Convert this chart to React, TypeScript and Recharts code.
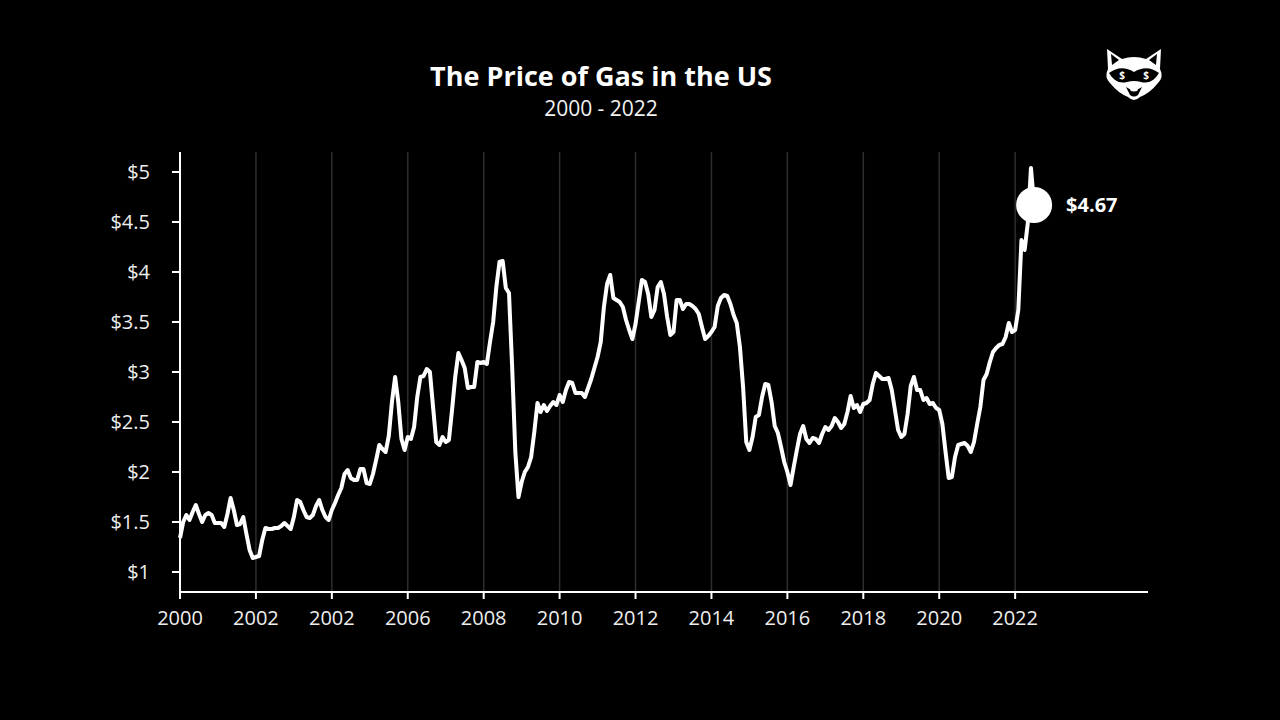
import { LineChart, Line, XAxis, YAxis, ReferenceLine, ReferenceDot } from "recharts";

const startYear = 2000;

// x axis ticks (labels copied as shown, including the repeated 2002)
const tickYears = [2000, 2002, 2004, 2006, 2008, 2010, 2012, 2014, 2016, 2018, 2020, 2022];
const tickLabels = ["2000", "2002", "2002", "2006", "2008", "2010", "2012", "2014", "2016", "2018", "2020", "2022"];
const priceTicks = [1, 1.5, 2, 2.5, 3, 3.5, 4, 4.5, 5];

// monthly average price per gallon, Jan 2000 .. Jul 2022
const monthlyPrices = [
  1.34, 1.5, 1.57, 1.52, 1.6, 1.67, 1.58, 1.5, 1.57, 1.59, 1.57, 1.49, // 2000
  1.49, 1.49, 1.45, 1.58, 1.74, 1.62, 1.47, 1.48, 1.55, 1.38, 1.22, 1.14, // 2001
  1.15, 1.16, 1.32, 1.44, 1.43, 1.43, 1.44, 1.44, 1.46, 1.49, 1.46, 1.43, // 2002
  1.55, 1.72, 1.7, 1.62, 1.55, 1.54, 1.57, 1.66, 1.72, 1.62, 1.55, 1.52, // 2003
  1.62, 1.69, 1.77, 1.84, 1.98, 2.02, 1.94, 1.92, 1.92, 2.03, 2.03, 1.89, // 2004
  1.88, 1.98, 2.12, 2.27, 2.23, 2.2, 2.36, 2.7, 2.95, 2.7, 2.33, 2.22, // 2005
  2.35, 2.33, 2.45, 2.75, 2.95, 2.96, 3.03, 3.0, 2.65, 2.3, 2.27, 2.35, // 2006
  2.3, 2.32, 2.62, 2.95, 3.19, 3.12, 3.04, 2.84, 2.85, 2.85, 3.1, 3.09, // 2007
  3.1, 3.08, 3.3, 3.5, 3.85, 4.1, 4.11, 3.84, 3.79, 3.05, 2.2, 1.75, // 2008
  1.9, 2.0, 2.05, 2.15, 2.4, 2.69, 2.6, 2.67, 2.61, 2.66, 2.7, 2.67, // 2009
  2.77, 2.7, 2.82, 2.9, 2.89, 2.79, 2.79, 2.79, 2.75, 2.84, 2.93, 3.04, // 2010
  3.15, 3.3, 3.65, 3.88, 3.97, 3.74, 3.72, 3.7, 3.65, 3.52, 3.42, 3.33, // 2011
  3.48, 3.7, 3.92, 3.9, 3.78, 3.55, 3.62, 3.85, 3.9, 3.78, 3.55, 3.37, // 2012
  3.4, 3.72, 3.72, 3.63, 3.68, 3.68, 3.66, 3.63, 3.58, 3.45, 3.33, 3.36, // 2013
  3.4, 3.45, 3.66, 3.74, 3.77, 3.76, 3.68, 3.57, 3.49, 3.25, 2.85, 2.3, // 2014
  2.22, 2.35, 2.55, 2.57, 2.75, 2.88, 2.87, 2.7, 2.46, 2.39, 2.25, 2.1, // 2015
  2.0, 1.87, 2.05, 2.22, 2.38, 2.46, 2.33, 2.29, 2.34, 2.33, 2.29, 2.38, // 2016
  2.45, 2.42, 2.46, 2.54, 2.5, 2.44, 2.48, 2.6, 2.76, 2.64, 2.67, 2.6, // 2017
  2.68, 2.69, 2.72, 2.88, 2.99, 2.96, 2.93, 2.93, 2.94, 2.82, 2.62, 2.42, // 2018
  2.35, 2.38, 2.58, 2.86, 2.95, 2.82, 2.82, 2.72, 2.74, 2.68, 2.69, 2.64, // 2019
  2.62, 2.48, 2.2, 1.94, 1.95, 2.15, 2.27, 2.28, 2.29, 2.26, 2.2, 2.3, // 2020
  2.48, 2.65, 2.92, 2.98, 3.1, 3.2, 3.24, 3.27, 3.28, 3.35, 3.49, 3.4, // 2021
  3.42, 3.62, 4.32, 4.22, 4.49, 5.04, 4.67, // 2022
];

const data = monthlyPrices.map((price, i) => ({ t: startYear + i / 12, price }));
const last = data[data.length - 1];

const font = "'Open Sans', 'Noto Sans', sans-serif";

function Logo() {
  return (
    <svg width={60} height={56} viewBox="0 0 60 56" style={{ position: "absolute", left: 1104, top: 47 }}>
      <path
        d="M3 2 L18 12 Q30 8 42 12 L57 2 L56 22 Q60 30 54 36 Q46 46 36 50 Q30 56 24 50 Q14 46 6 36 Q0 30 4 22 Z"
        fill="#fff"
      />
      <path d="M7 7 L15 13 L8 18 Z" fill="#000" />
      <path d="M53 7 L45 13 L52 18 Z" fill="#000" />
      <path d="M5 26 Q17 17 30 25 Q43 17 55 26 Q48 38 37 35 Q30 33 23 35 Q12 38 5 26 Z" fill="#000" />
      <text x={18} y={32} fontSize={10} fontWeight={700} fill="#fff" textAnchor="middle" fontFamily={font}>$</text>
      <text x={42} y={32} fontSize={10} fontWeight={700} fill="#fff" textAnchor="middle" fontFamily={font}>$</text>
      <path d="M22 40 Q30 46 38 40 L34 48 Q30 51 26 48 Z" fill="#000" />
      <ellipse cx={30} cy={42} rx={4} ry={2.5} fill="#fff" />
    </svg>
  );
}

export default function App() {
  return (
    <div
      style={{
        position: "absolute",
        left: 0,
        top: 0,
        width: 1280,
        height: 720,
        background: "#000",
        overflow: "hidden",
        fontFamily: font,
      }}
    >
      <div
        style={{
          position: "absolute",
          left: 401,
          top: 62,
          width: 400,
          textAlign: "center",
          color: "#fff",
          fontSize: 27,
          lineHeight: "27px",
          fontWeight: 700,
        }}
      >
        The Price of Gas in the US
      </div>
      <div
        style={{
          position: "absolute",
          left: 401,
          top: 98,
          width: 400,
          textAlign: "center",
          color: "#f2f2f2",
          fontSize: 21,
          lineHeight: "21px",
        }}
      >
        2000 - 2022
      </div>
      <Logo />

      <LineChart
        width={1280}
        height={720}
        data={data}
        margin={{ top: 152, right: 132, bottom: 98, left: 120 }}
      >
        {/* faint vertical gridlines at the year ticks only */}
        {tickYears.slice(1).map((yr) => (
          <ReferenceLine key={yr} x={yr} stroke="#2e2e2e" strokeWidth={1.5} />
        ))}
        <XAxis
          dataKey="t"
          type="number"
          domain={[2000, 2025.5]}
          ticks={tickYears}
          tickFormatter={(v) => tickLabels[tickYears.indexOf(v)]}
          height={30}
          stroke="#fff"
          strokeWidth={2}
          tickSize={7}
          tickMargin={12}
          tick={{ fill: "#eee", fontSize: 20, fontFamily: font }}
        />
        <YAxis
          type="number"
          domain={[0.8, 5.2]}
          ticks={priceTicks}
          tickFormatter={(v) => `$${v}`}
          width={60}
          stroke="#fff"
          strokeWidth={2}
          tickSize={8}
          tickMargin={22}
          tick={{ fill: "#eee", fontSize: 20, fontFamily: font }}
        />
        <Line
          dataKey="price"
          type="linear"
          stroke="#fff"
          strokeWidth={4}
          strokeLinejoin="round"
          dot={false}
          activeDot={false}
          isAnimationActive={false}
        />
        <ReferenceDot
          x={last.t}
          y={last.price}
          r={18}
          fill="#fff"
          stroke="none"
          label={{
            value: `$${last.price.toFixed(2)}`,
            position: "right",
            offset: 14,
            fill: "#fff",
            fontSize: 20,
            fontWeight: 700,
            fontFamily: font,
          }}
        />
      </LineChart>
    </div>
  );
}
